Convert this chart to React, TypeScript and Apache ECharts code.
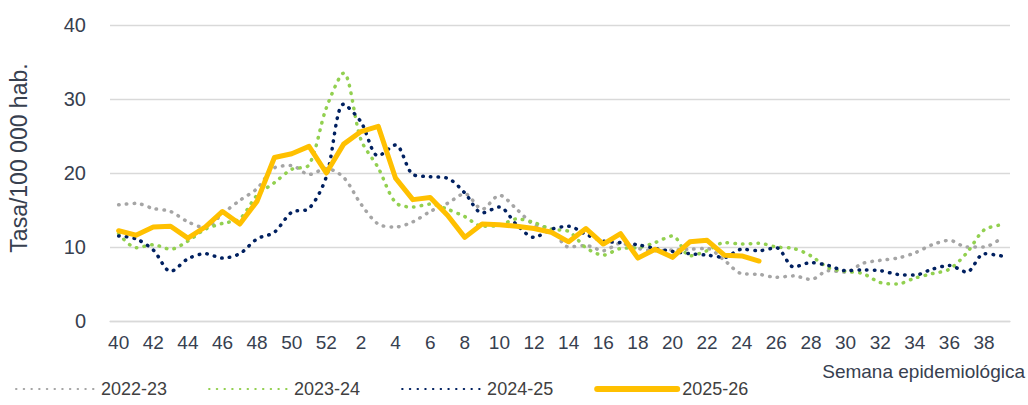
import React, { useEffect, useRef } from "react";
import * as echarts from "echarts";

const weeks: string[] = [
  "40", "41", "42", "43", "44", "45", "46", "47", "48", "49", "50", "51", "52",
  "1", "2", "3", "4", "5", "6", "7", "8", "9", "10", "11", "12", "13", "14", "15",
  "16", "17", "18", "19", "20", "21", "22", "23", "24", "25", "26", "27", "28", "29",
  "30", "31", "32", "33", "34", "35", "36", "37", "38", "39",
];

const s2022: number[] = [
  15.7, 15.9, 15.2, 14.8, 13.4, 12.6, 14.5, 16.3, 17.9, 20.7, 21.0, 19.8, 20.6,
  19.4, 15.8, 13.1, 12.7, 13.4, 14.8, 15.9, 17.2, 15.1, 17.0, 15.1, 13.0, 12.4,
  10.0, 10.2, 9.5, 10.5, 9.8, 9.5, 9.6, 9.7, 9.8, 8.2, 6.4, 6.3, 5.9, 6.1,
  5.6, 6.8, 6.6, 7.8, 8.2, 8.5, 9.2, 10.3, 10.9, 10.0, 10.0, 11.2,
];

const s2023: number[] = [
  11.8, 9.9, 10.3, 9.7, 10.8, 12.4, 13.2, 13.8, 17.0, 18.7, 20.5, 21.1, 28.8,
  33.5, 24.5, 20.7, 16.0, 15.4, 15.8, 15.1, 14.1, 12.8, 12.9, 13.8, 13.3, 12.4,
  12.1, 9.9, 8.9, 9.8, 9.9, 10.6, 11.5, 8.8, 9.5, 10.6, 10.4, 10.5, 10.0, 9.8,
  8.8, 7.2, 6.7, 6.4, 5.2, 5.0, 5.8, 6.4, 7.0, 9.2, 12.3, 13.0,
];

const s2024: number[] = [
  11.5, 11.1, 9.6, 6.7, 8.4, 9.1, 8.5, 9.1, 11.1, 12.0, 14.7, 15.2, 19.5,
  29.3, 26.9, 22.3, 23.8, 19.8, 19.5, 19.3, 17.3, 14.6, 15.4, 13.0, 11.3, 12.4,
  12.8, 11.7, 10.8, 10.6, 10.3, 9.8, 9.4, 9.1, 8.9, 8.6, 9.7, 9.5, 9.9, 7.3,
  7.9, 7.5, 6.8, 6.9, 6.8, 6.3, 6.2, 7.0, 7.5, 6.6, 9.1, 8.8,
];

const s2025: number[] = [
  12.2, 11.6, 12.7, 12.8, 11.2, 12.7, 14.8, 13.1, 16.2, 22.1, 22.6, 23.6, 20.0,
  23.9, 25.6, 26.3, 19.3, 16.4, 16.7, 14.3, 11.3, 13.1, 13.0, 12.8, 12.5, 12.0,
  10.7, 12.5, 10.4, 11.8, 8.5, 9.7, 8.6, 10.7, 10.9, 8.9, 8.8, 8.1,
];

const seasons: string[] = ["2022-23", "2023-24", "2024-25", "2025-26"];
const yTicks = { min: 0, max: 40, interval: 10 };

const FONT = "'Liberation Sans', Arial, sans-serif";
const TXT = "#37404F";

export default function App() {
  const ref = useRef<HTMLDivElement>(null);

  useEffect(() => {
    if (!ref.current) return;
    const chart = echarts.init(ref.current, undefined, { renderer: "svg" });
    const dotted = (color: string) => ({
      width: 3.5,
      color,
      type: [0.5, 7.2] as any,
      cap: "round" as const,
    });
    chart.setOption({
      animation: false,
      backgroundColor: "#ffffff",
      textStyle: { fontFamily: FONT },
      grid: { left: 110, right: 18, top: 25, bottom: 84 },
      xAxis: {
        type: "category",
        data: weeks,
        boundaryGap: true,
        axisLine: { show: true, lineStyle: { color: "#D9D9D9", width: 1.3 } },
        axisTick: { show: false },
        axisLabel: {
          interval: 1,
          color: TXT,
          fontSize: 19,
          fontFamily: FONT,
          margin: 12,
        },
      },
      yAxis: {
        type: "value",
        min: yTicks.min,
        max: yTicks.max,
        interval: yTicks.interval,
        axisLine: { show: false },
        axisTick: { show: false },
        axisLabel: { color: TXT, fontSize: 20, fontFamily: FONT, margin: 24 },
        splitLine: { lineStyle: { color: "#D9D9D9", width: 1.3 } },
      },
      legend: {
        left: 10,
        top: 375,
        itemWidth: 80,
        itemHeight: 14,
        itemGap: 41,
        itemStyle: { opacity: 0 },
        textStyle: { color: "#404040", fontSize: 18, fontFamily: FONT },
        data: [
          { name: seasons[0] },
          { name: seasons[1] },
          { name: seasons[2] },
          { name: seasons[3], lineStyle: { width: 6, color: "#FFC000" } },
        ],
      },
      graphic: [
        {
          type: "text",
          x: 19,
          y: 158,
          rotation: Math.PI / 2,
          style: {
            text: "Tasa/100 000 hab.",
            fill: TXT,
            font: `23px ${FONT}`,
            align: "center",
            verticalAlign: "middle",
          },
        },
        {
          type: "text",
          right: 3,
          top: 362,
          style: {
            text: "Semana epidemiológica",
            fill: TXT,
            font: `19px ${FONT}`,
          },
        },
      ],
      series: [
        {
          name: seasons[0],
          type: "line",
          data: s2022,
          smooth: 0.3,
          showSymbol: false,
          symbol: "none",
          lineStyle: dotted("#A5A5A5"),
          itemStyle: { color: "#A5A5A5" },
          z: 2,
        },
        {
          name: seasons[1],
          type: "line",
          data: s2023,
          smooth: 0.3,
          showSymbol: false,
          symbol: "none",
          lineStyle: dotted("#92D050"),
          itemStyle: { color: "#92D050" },
          z: 3,
        },
        {
          name: seasons[2],
          type: "line",
          data: s2024,
          smooth: 0.3,
          showSymbol: false,
          symbol: "none",
          lineStyle: dotted("#002060"),
          itemStyle: { color: "#002060" },
          z: 4,
        },
        {
          name: seasons[3],
          type: "line",
          data: s2025,
          showSymbol: false,
          symbol: "none",
          lineStyle: { width: 5, color: "#FFC000", cap: "round", join: "round" },
          itemStyle: { color: "#FFC000" },
          z: 5,
        },
      ],
    });
    return () => chart.dispose();
  }, []);

  return (
    <div
      ref={ref}
      style={{ position: "fixed", left: 0, top: 0, width: 1028, height: 405, background: "#fff" }}
    />
  );
}
